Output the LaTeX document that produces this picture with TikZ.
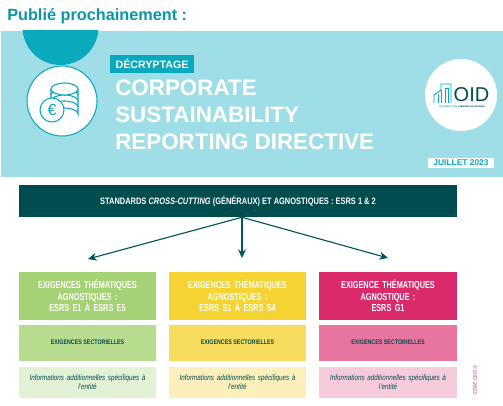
\documentclass[tikz,border=0pt]{standalone}
\usepackage{fontspec}
\setmainfont{Liberation Sans}
\newfontfamily\cond[FakeStretch=0.8]{Liberation Sans}
\newfontfamily\condb[FakeStretch=0.72]{Liberation Sans}
\usetikzlibrary{arrows.meta}
\definecolor{banner}{HTML}{9FDEE6}
\definecolor{teal}{HTML}{0AA9BE}
\definecolor{titleteal}{HTML}{0A96AA}
\definecolor{dark}{HTML}{004D4F}
\definecolor{greenA}{HTML}{A5D275}
\definecolor{greenB}{HTML}{B7DC90}
\definecolor{greenC}{HTML}{E3F1D6}
\definecolor{yelA}{HTML}{F4D333}
\definecolor{yelB}{HTML}{F7DC5F}
\definecolor{yelC}{HTML}{FBF0BC}
\definecolor{pinkA}{HTML}{DB2A6B}
\definecolor{pinkB}{HTML}{E8759F}
\definecolor{pinkC}{HTML}{F6CBDC}
\tikzset{
  x=0.75pt,y=-0.75pt,
  cell/.style={inner sep=0pt,outer sep=0pt,minimum width=103pt,align=center},
  top/.style={cell,minimum height=36pt,text=white,font=\condb\bfseries\fontsize{7.6}{8.6}\selectfont,text width=100pt},
  mid/.style={cell,minimum height=27pt,text=dark,font=\cond\bfseries\fontsize{5}{6}\selectfont},
  low/.style={cell,minimum height=23.25pt,text=dark,font=\cond\itshape\fontsize{5.9}{6.9}\selectfont,text width=100pt},
  title/.style={anchor=west,inner sep=0pt,text=white,font=\bfseries\fontsize{16.8}{17}\selectfont},
  flow/.style={draw=dark!90!teal,line width=0.85pt,-{Stealth[length=6.5pt,width=6pt]}},
}
\begin{document}
\begin{tikzpicture}
\useasboundingbox (0,0) rectangle (503,406);
\fill[white] (0,0) rectangle (503,406);
\node[anchor=west,inner sep=0pt,text=titleteal,font=\bfseries\fontsize{12.2}{12.2}\selectfont] (head) at (7,16) {Publié prochainement :};
% banner
\fill[banner] (1,31) rectangle (503,177);
\begin{scope}
\clip (1,31) rectangle (503,177);
\fill[teal] (60.5,27) circle[radius=38];
\end{scope}
\draw[teal,fill=white,line width=0.8pt] (62,101) circle[radius=35];
% coin stack
\begin{scope}[draw=teal,line width=0.8pt,fill=white]
\draw (51,89) -- (51,114) arc[start angle=180,end angle=360,x radius=13.5,y radius=6] -- (78,89);
\foreach \yy in {95,101,107}
  \draw (51,\yy) arc[start angle=180,end angle=360,x radius=13.5,y radius=6];
\filldraw (64.5,89) ellipse[x radius=13.5,y radius=6];
\filldraw (52,110) circle[radius=12];
\end{scope}
\node[inner sep=0pt,text=teal,font=\fontsize{12}{12}\selectfont] (euro) at (52,110) {€};
% title block
\node[fill=teal,inner sep=0pt,minimum width=63pt,minimum height=13.5pt,text=white,font=\bfseries\fontsize{8}{8}\selectfont] (tag) at (152,64) {DÉCRYPTAGE};
\node[title] (t1) at (115,87.5) {CORPORATE};
\node[title] (t2) at (115,114.5) {SUSTAINABILITY};
\node[title] (t3) at (115,142) {REPORTING DIRECTIVE};
% logo
\fill[white] (461,95) circle[radius=36];
\begin{scope}[draw=teal,line width=0.7pt]
\draw (434,103) -- (434,95) -- (441,90) -- (441,84) -- (451,84) -- (451,103);
\draw (438,103) -- (438,94);
\draw (441,103) -- (441,90);
\draw (445,103) -- (445,88) -- (448,88) -- (448,103);
\end{scope}
\node[inner sep=0pt,text=dark,font=\fontsize{15}{15}\selectfont] (oid) at (471.5,95) {OID};
\node[inner sep=0pt,text=dark,font=\bfseries\fontsize{1.7}{2}\selectfont] (oidsub) at (462,106.5) {\textcolor{teal}{OEUVRER POUR} L'IMMOBILIER DURABLE};
\node[fill=white,inner sep=0pt,minimum width=49.5pt,minimum height=7.5pt,text=teal,font=\bfseries\fontsize{6.3}{7}\selectfont] (date) at (461,163) {JUILLET 2023};
% main bar
\node[fill=dark,inner sep=0pt,minimum width=328.5pt,minimum height=24pt,text=white,font=\cond\bfseries\fontsize{7}{8}\selectfont] (bar) at (238,201) {STANDARDS \textit{CROSS-CUTTING} (GÉNÉRAUX) ET AGNOSTIQUES : ESRS 1 \& 2};
\coordinate (a1) at (88,259);
\coordinate (a2) at (242,258);
\coordinate (a3) at (388,258);
\coordinate (o) at (bar.south -| a2);
\draw[flow] (o) -- (a1);
\draw[flow] (o) -- (a2);
\draw[flow] (o) -- (a3);
% columns
\node[top,fill=greenA] (g1) at (87.5,296) {EXIGENCES THÉMATIQUES\\AGNOSTIQUES :\\ESRS E1 À ESRS E5};
\node[mid,fill=greenB] (g2) at (87.5,342.5) {EXIGENCES SECTORIELLES};
\node[low,fill=greenC] (g3) at (87.5,382.5) {Informations additionnelles spécifiques à\\l’entité};
\node[top,fill=yelA] (y1) at (237.5,296) {EXIGENCES THÉMATIQUES\\AGNOSTIQUES :\\ESRS S1 À ESRS S4};
\node[mid,fill=yelB] (y2) at (237.5,342.5) {EXIGENCES SECTORIELLES};
\node[low,fill=yelC] (y3) at (237.5,382.5) {Informations additionnelles spécifiques à\\l’entité};
\node[top,fill=pinkA] (p1) at (388,296) {EXIGENCE THÉMATIQUES\\AGNOSTIQUE :\\ESRS G1};
\node[mid,fill=pinkB] (p2) at (388,342.5) {EXIGENCES SECTORIELLES};
\node[low,fill=pinkC] (p3) at (388,382.5) {Informations additionnelles spécifiques à\\l’entité};
\node[rotate=-90,inner sep=0pt,text=pinkB,font=\bfseries\fontsize{4.2}{5}\selectfont] (copy) at (475,380) {© OID 2023};
\end{tikzpicture}
\end{document}
